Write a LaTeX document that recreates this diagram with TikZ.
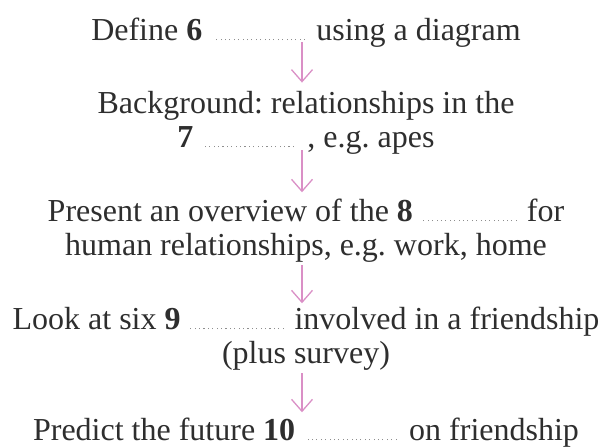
\documentclass[tikz,border=0pt]{standalone}
\usepackage{fontspec}
\setmainfont{Liberation Serif}
\usetikzlibrary{arrows.meta,positioning}
\definecolor{flowpink}{HTML}{DA8FC6}
\definecolor{leadgray}{HTML}{8E8E8E}
\definecolor{inkgray}{HTML}{2E2E2E}
\newcommand{\gapline}{{\color{leadgray}\leaders\hbox to 4.4pt{\hss\rule{1.1pt}{1.1pt}\hss}\hskip 98pt}}
\tikzset{
    stepnode/.style={align=center,inner sep=0pt,text=inkgray,font=\fontsize{32}{34}\selectfont\frenchspacing},
    flow/.style={draw=flowpink,line width=1.3pt,-{Straight Barb[length=12pt,width=21pt,line width=1.3pt]}},
}

\begin{document}
\begin{tikzpicture}[x=1pt,y=-1pt]
    \useasboundingbox (0,0) rectangle (609,447);
    % base anchor sits on the last line
    \node[stepnode,anchor=base] (define) at (306,40) {Define \textbf{6} \gapline{} using a diagram};
    \node[stepnode,anchor=base] (background) at (306,147) {Background: relationships in the\\ \textbf{7} \gapline{} , e.g. apes};
    \node[stepnode,anchor=base] (overview) at (306,255) {Present an overview of the \textbf{8} \gapline{} for\\ human relationships, e.g. work, home};
    \node[stepnode,anchor=base] (lookat) at (306,363) {Look at six \textbf{9} \gapline{} involved in a friendship\\ (plus survey)};
    \node[stepnode,anchor=base] (predict) at (306,440) {Predict the future \textbf{10} \gapline{} on friendship};

    \draw[flow,shorten <=-5pt,shorten >=8pt] ([xshift=-4pt]define.south) -- ([xshift=-4pt]background.north);
    \draw[flow,shorten <=-4pt,shorten >=6pt] ([xshift=-4pt]background.south) -- ([xshift=-4pt]overview.north);
    \draw[flow,shorten <=3pt,shorten >=3pt] ([xshift=-4pt]overview.south) -- ([xshift=-4pt]lookat.north);
    \draw[flow,shorten <=3pt,shorten >=5pt] ([xshift=-4pt]lookat.south) -- ([xshift=-4pt]predict.north);
\end{tikzpicture}
\end{document}
